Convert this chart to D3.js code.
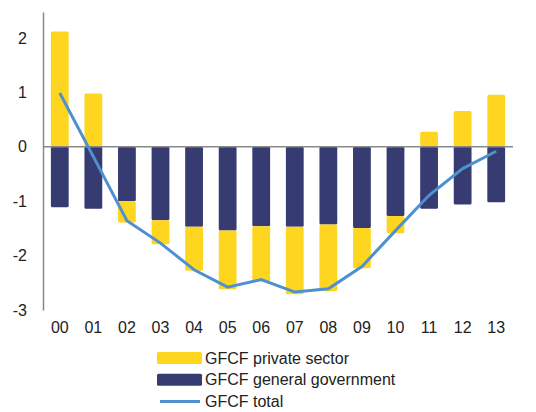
<!DOCTYPE html>
<html>
    <head>
        <meta charset="utf-8"/>
        <script src="https://cdnjs.cloudflare.com/ajax/libs/d3/7.8.5/d3.min.js"></script>
        <style>
            body { margin: 0; background: #fff; }
            text { font-family: "Liberation Sans", Arial, sans-serif; fill: #222; }
        </style>
    </head>
    <body>
        <script>
            // years (two-digit labels)
            const years = ["00","01","02","03","04","05","06","07","08","09","10","11","12","13"];
            const privateSector = [2.12, 0.98, -0.39, -0.44, -0.81, -1.08, -1.01, -1.24, -1.22, -0.74, -0.32, 0.28, 0.66, 0.96];
            const generalGov = [-1.11, -1.14, -1.00, -1.35, -1.47, -1.54, -1.46, -1.47, -1.43, -1.49, -1.27, -1.14, -1.06, -1.02];
            const total = [0.99, -0.18, -1.36, -1.77, -2.26, -2.58, -2.44, -2.67, -2.61, -2.20, -1.54, -0.89, -0.40, -0.08];
            const yTicks = [-3, -2, -1, 0, 1, 2];
            const legendItems = ["GFCF private sector", "GFCF general government", "GFCF total"];

            const width = 536, height = 412;
            const margin = {top: 12, right: 23, bottom: 102, left: 43};
            const colors = {priv: "#FFD61F", gov: "#363B72", total: "#4E90D0"};

            const svg = d3.select("body").append("svg")
                .attr("width", width).attr("height", height);

            const x = d3.scaleBand()
                .domain(years)
                .range([margin.left, width - margin.right])
                .paddingInner(0.47).paddingOuter(0.235);

            const y = d3.scaleLinear()
                .domain([-3, 2.48])
                .range([height - margin.bottom, margin.top]);

            // bars: gov always below zero; private either above zero or stacked below gov
            const bars = svg.append("g");
            years.forEach((yr, i) => {
                const g = generalGov[i], p = privateSector[i];
                bars.append("rect")
                    .attr("x", x(yr)).attr("width", x.bandwidth())
                    .attr("y", y(0)).attr("height", y(g) - y(0))
                    .attr("rx", 1.5)
                    .attr("fill", colors.gov);
                let y0, y1;
                if (p >= 0) { y0 = 0; y1 = p; } else { y0 = g + p; y1 = g; }
                bars.append("rect")
                    .attr("x", x(yr)).attr("width", x.bandwidth())
                    .attr("y", y(y1)).attr("height", y(y0) - y(y1))
                    .attr("rx", 1.5)
                    .attr("fill", colors.priv);
            });

            // zero line
            svg.append("line")
                .attr("x1", margin.left).attr("x2", width - margin.right)
                .attr("y1", y(0)).attr("y2", y(0))
                .attr("stroke", "#888").attr("stroke-width", 1.5);

            // total line
            const line = d3.line()
                .x((d, i) => x(years[i]) + x.bandwidth() / 2)
                .y(d => y(d));
            svg.append("path")
                .datum(total)
                .attr("fill", "none")
                .attr("stroke", colors.total)
                .attr("stroke-width", 3)
                .attr("d", line);

            // y axis
            const yAxis = svg.append("g")
                .attr("transform", `translate(${margin.left},0)`)
                .call(d3.axisLeft(y).tickValues(yTicks).tickSize(0).tickPadding(16).tickFormat(d => String(d)));
            yAxis.select(".domain").attr("stroke", "#888").attr("stroke-width", 1.5);
            yAxis.selectAll("text").style("font-size", "16px");

            // x axis labels
            const xAxis = svg.append("g")
                .attr("transform", `translate(0,${y(-3)})`)
                .call(d3.axisBottom(x).tickSize(0).tickPadding(12));
            xAxis.select(".domain").remove();
            xAxis.selectAll("text").style("font-size", "16px");

            // legend
            const legend = svg.append("g").attr("transform", "translate(157,358)");
            legendItems.forEach((name, i) => {
                const row = legend.append("g").attr("transform", `translate(0,${i * 21.8})`);
                if (i < 2) {
                    row.append("rect")
                        .attr("x", 0).attr("y", -6).attr("width", 45).attr("height", 12)
                        .attr("rx", 1.5)
                        .attr("fill", i === 0 ? colors.priv : colors.gov);
                } else {
                    row.append("line")
                        .attr("x1", 3).attr("x2", 43).attr("y1", 0).attr("y2", 0)
                        .attr("stroke", colors.total).attr("stroke-width", 3);
                }
                row.append("text")
                    .attr("x", 48).attr("y", 0).attr("dy", "0.35em")
                    .style("font-size", "16px")
                    .text(name);
            });
        </script>
    </body>
</html>
